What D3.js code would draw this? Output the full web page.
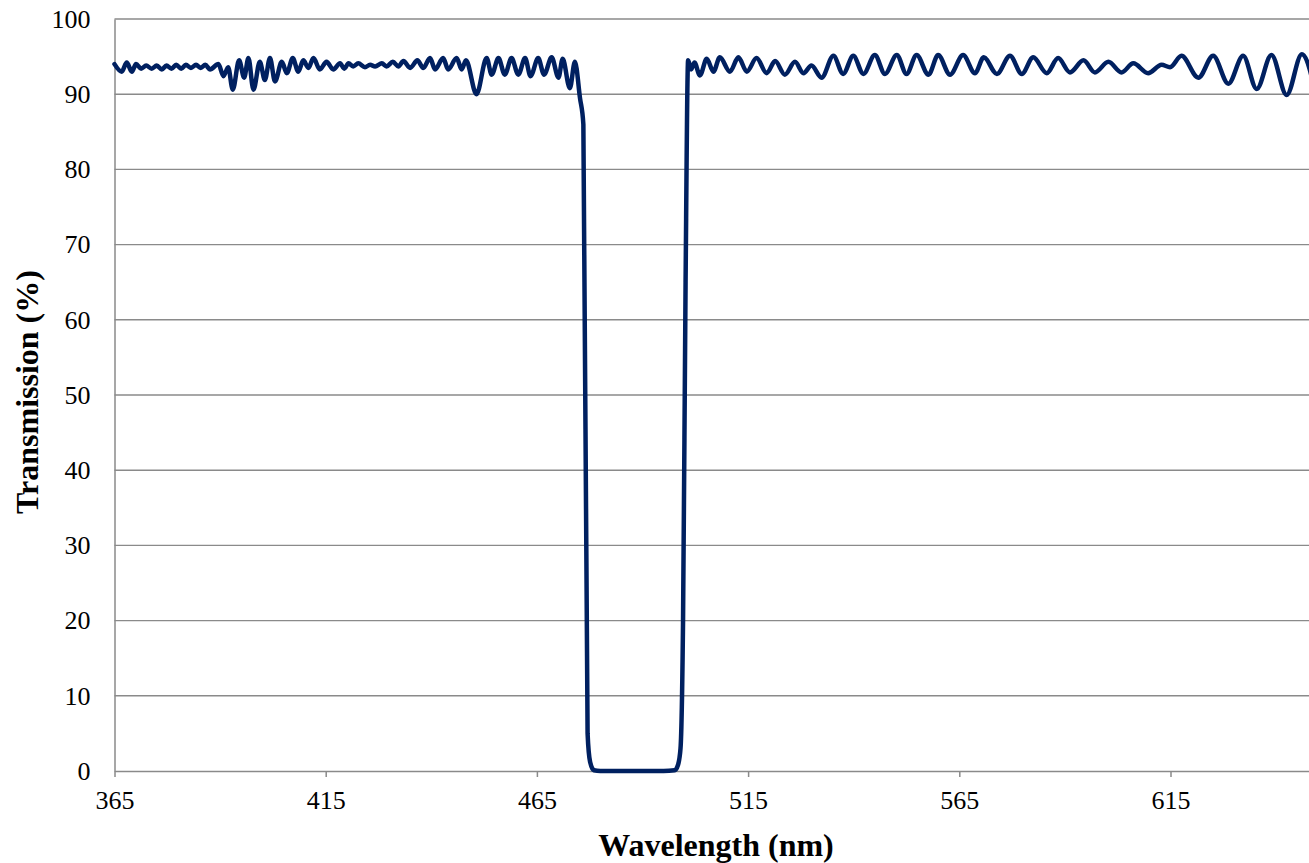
<!DOCTYPE html>
<html>
<head>
<meta charset="utf-8">
<script src="https://cdn.jsdelivr.net/npm/d3@7"></script>
<style>
  html, body { margin: 0; padding: 0; background: #fff; overflow: hidden; }
  svg { display: block; }
  svg text { font-family: "Liberation Serif", "Times New Roman", serif !important; fill: #000; }
</style>
</head>
<body>
<svg id="chart" width="1309" height="863"></svg>
<script>
// ---- data ----
const wavelength = [
  365.0, 366.7, 367.9, 369.1, 370.1, 371.3, 372.5, 373.8, 375.0, 376.2,
  377.3, 378.5, 379.6, 380.8, 381.9, 383.1, 384.3, 385.4, 386.5, 387.6,
  389.6, 390.8, 391.9, 393.0, 394.5, 395.7, 396.7, 397.9, 399.4, 400.6,
  401.8, 403.0, 404.6, 405.8, 407.2, 408.5, 409.7, 410.9, 412.1, 413.6,
  415.2, 416.8, 418.4, 419.4, 420.4, 421.5, 422.7, 424.3, 425.5, 426.7,
  428.3, 429.4, 430.9, 432.2, 433.4, 435.0, 436.7, 438.1, 439.7, 440.9,
  442.8, 444.0, 446.0, 447.2, 448.2, 450.7, 453.1, 454.3, 455.9, 457.4,
  459.0, 460.6, 462.2, 463.5, 465.3, 466.7, 468.5, 470.1, 471.1, 472.8,
  474.0, 475.2, 476.0, 477.0, 477.6, 478.5, 480.0, 485.0, 490.0, 495.0,
  497.6, 498.4, 499.0, 499.6, 500.2, 500.8, 501.5, 502.3, 503.6, 505.2,
  506.8, 508.3, 510.7, 512.7, 514.7, 517.0, 519.4, 521.4, 523.7, 526.1,
  528.1, 530.0, 532.4, 535.2, 537.5, 539.9, 542.3, 545.0, 547.4, 550.2,
  552.5, 554.9, 557.7, 560.0, 562.8, 565.9, 568.7, 570.8, 573.9, 577.0,
  579.8, 582.5, 585.7, 588.4, 591.2, 594.4, 597.1, 600.3, 603.4, 606.2,
  609.7, 612.9, 614.9, 617.6, 621.6, 625.1, 628.7, 632.2, 635.4, 638.9,
  642.5, 646.1, 649.6
];
const transmission = [
  94.0, 93.0, 94.2, 93.0, 94.0, 93.4, 93.8, 93.4, 93.8, 93.3,
  93.8, 93.4, 93.9, 93.4, 93.9, 93.5, 93.9, 93.5, 93.9, 93.3,
  94.0, 92.4, 93.6, 90.6, 94.5, 92.2, 94.8, 90.6, 94.3, 91.9,
  94.8, 91.7, 94.3, 92.8, 94.8, 93.0, 94.5, 93.5, 94.8, 93.3,
  94.3, 93.3, 94.1, 93.4, 94.1, 93.7, 94.1, 93.6, 93.9, 93.7,
  94.1, 93.7, 94.3, 93.7, 94.4, 93.5, 94.5, 93.5, 94.8, 93.3,
  94.8, 93.3, 94.8, 93.3, 94.5, 90.0, 94.8, 92.6, 94.8, 92.6,
  94.8, 92.6, 94.8, 92.4, 94.8, 92.6, 94.9, 92.2, 94.7, 90.8,
  94.3, 89.5, 86.0, 5.0, 1.2, 0.1, 0.0, 0.0, 0.0, 0.0,
  0.1, 0.8, 3.0, 20.0, 65.0, 94.5, 93.3, 94.2, 92.5, 94.7,
  93.0, 94.9, 93.0, 94.9, 93.0, 94.8, 92.8, 94.4, 92.6, 94.3,
  92.8, 93.8, 92.2, 95.1, 92.7, 95.1, 92.7, 95.2, 92.7, 95.2,
  92.7, 95.2, 92.6, 95.2, 92.6, 95.2, 92.8, 94.9, 92.7, 95.1,
  92.7, 94.9, 92.8, 94.8, 92.9, 94.5, 92.9, 94.3, 92.9, 94.1,
  92.8, 93.9, 93.6, 95.1, 92.2, 95.1, 91.4, 95.1, 90.7, 95.2,
  89.9, 95.3, 89.6
];
const xTicks = [365, 415, 465, 515, 565, 615];
const yTicks = [0, 10, 20, 30, 40, 50, 60, 70, 80, 90, 100];
const xTitle = "Wavelength (nm)";
const yTitle = "Transmission (%)";

// ---- layout ----
const W = 1309, H = 863;
const plotLeft = 114.5, plotTop = 19, plotBottom = 771;
const pxPerNm = 4.224;
const svg = d3.select("#chart");
const serif = '"Liberation Serif", "Times New Roman", serif';

const x = d3.scaleLinear().domain([365, 665]).range([plotLeft, plotLeft + 300 * pxPerNm]);
const y = d3.scaleLinear().domain([0, 100]).range([plotBottom, plotTop]);

const gridColor = "#8a8a8a";

// horizontal gridlines
svg.append("g")
  .selectAll("line")
  .data(yTicks.filter(d => d > 0))
  .join("line")
  .attr("x1", plotLeft).attr("x2", W + 5)
  .attr("y1", d => y(d)).attr("y2", d => y(d))
  .attr("stroke", gridColor).attr("stroke-width", 1.4);

// y axis
const yAxis = svg.append("g")
  .attr("transform", `translate(${plotLeft},0)`)
  .call(d3.axisLeft(y).tickValues(yTicks).tickSize(0).tickPadding(24));
yAxis.attr("font-family", serif).attr("font-size", 26);
yAxis.select(".domain").attr("stroke", gridColor).attr("stroke-width", 1.5);
yAxis.selectAll("text")
  .attr("font-family", serif)
  .attr("font-size", 26)
  .attr("fill", "#000");

// x axis
const xAxis = svg.append("g")
  .attr("transform", `translate(0,${plotBottom})`)
  .call(d3.axisBottom(x).tickValues(xTicks).tickFormat(d3.format("d")).tickSize(6).tickSizeOuter(0).tickPadding(14));
xAxis.attr("font-family", serif).attr("font-size", 26);
xAxis.select(".domain").attr("stroke", gridColor).attr("stroke-width", 1.5);
xAxis.selectAll(".tick line").attr("stroke", gridColor).attr("stroke-width", 1.5);
xAxis.selectAll("text")
  .attr("font-family", serif)
  .attr("font-size", 26)
  .attr("fill", "#000");

// data line
const pts = wavelength.map((w, i) => [w, transmission[i]]);
const line = d3.line()
  .x(d => x(d[0]))
  .y(d => y(d[1]))
  .curve(d3.curveMonotoneX);
svg.append("path")
  .datum(pts)
  .attr("d", line)
  .attr("fill", "none")
  .attr("stroke", "#002060")
  .attr("stroke-width", 4.5)
  .attr("stroke-linejoin", "round")
  .attr("stroke-linecap", "round");

// titles
svg.append("text")
  .attr("x", 716).attr("y", 856)
  .attr("text-anchor", "middle")
  .attr("font-family", serif)
  .attr("font-weight", "bold")
  .attr("font-size", 32)
  .text(xTitle);

svg.append("text")
  .attr("transform", `translate(38,392) rotate(-90)`)
  .attr("text-anchor", "middle")
  .attr("font-family", serif)
  .attr("font-weight", "bold")
  .attr("font-size", 32)
  .text(yTitle);
</script>
</body>
</html>
